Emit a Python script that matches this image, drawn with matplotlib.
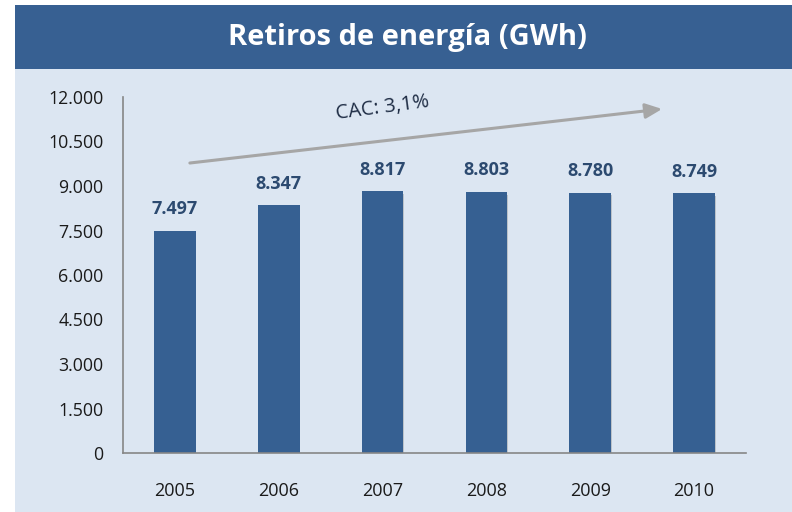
import matplotlib
matplotlib.use("Agg")
import matplotlib.pyplot as plt
from matplotlib.patches import Rectangle
import matplotlib.patheffects as pe

years = ["2005", "2006", "2007", "2008", "2009", "2010"]
values = [7497, 8347, 8817, 8803, 8780, 8749]
value_labels = ["7.497", "8.347", "8.817", "8.803", "8.780", "8.749"]
yticks = [0, 1500, 3000, 4500, 6000, 7500, 9000, 10500, 12000]
ytick_labels = ["0", "1.500", "3.000", "4.500", "6.000", "7.500", "9.000", "10.500", "12.000"]
title = "Retiros de energía (GWh)"
cac_text = "CAC: 3,1%"

FONT = ["Open Sans", "DejaVu Sans"]
plt.rcParams['font.family'] = FONT

BANNER = "#376092"
PANEL = "#dce6f2"
BAR = "#366092"
LABEL = "#2c4a70"
AXIS = "#868686"

fig = plt.figure(figsize=(7.92, 5.12), dpi=100)
fig.patch.set_facecolor("white")

# panel and banner
fig.add_artist(Rectangle((15/792, 0), 1 - 15/792, (512-69)/512, transform=fig.transFigure,
                         facecolor=PANEL, edgecolor="none", zorder=0))
fig.add_artist(Rectangle((15/792, (512-69)/512), 1 - 15/792, 64/512, transform=fig.transFigure,
                         facecolor=BANNER, edgecolor="none", zorder=0))
fig.text(407/792, (512-38)/512, title, color="white", fontsize=21, fontweight="bold",
         ha="center", va="center")

ax = fig.add_axes([123/792, (512-453)/512, (746-123)/792, (453-97)/512])
ax.set_facecolor("none")
x = list(range(len(years)))
bars = ax.bar(x, values, width=0.4, color=BAR, zorder=3)
for b in bars:
    b.set_path_effects([pe.SimplePatchShadow(offset=(0.5, -2), shadow_rgbFace="#7f7f7f", alpha=0.35),
                        pe.Normal()])
for xi, v, lab in zip(x, values, value_labels):
    ax.annotate(lab, (xi, v), xytext=(0, 9), textcoords="offset points", ha="center", va="bottom",
                fontsize=13, fontweight="bold", color=LABEL)

ax.set_xlim(-0.5, len(years) - 0.5)
ax.set_ylim(0, 12000)
ax.set_yticks(yticks)
ax.set_yticklabels(ytick_labels)
ax.set_xticks(x)
ax.set_xticklabels(years)
ax.tick_params(axis="y", length=0, pad=14, labelsize=12.8, labelcolor="#1a1a1a")
ax.tick_params(axis="x", length=0, pad=21, labelsize=13, labelcolor="#1a1a1a")
for s in ["top", "right"]:
    ax.spines[s].set_visible(False)
for s in ["left", "bottom"]:
    ax.spines[s].set_color(AXIS)
    ax.spines[s].set_linewidth(1.2)
    ax.spines[s].set_zorder(4)

# trend arrow
arrow_start = (0.144, 9775)
arrow_end = (4.692, 11596)
ax.annotate("", xy=arrow_end, xytext=arrow_start,
            arrowprops=dict(arrowstyle="-|>,head_length=1.0,head_width=0.45", color="#a6a6a6",
                            lw=2.2, shrinkA=0, shrinkB=0), annotation_clip=False)
ax.text(2.0, 11620, cac_text, rotation=7.5, ha="center", va="center", fontsize=14.5,
        color="#1f2d45", clip_on=False)

fig.savefig("out.png", dpi=100, facecolor="white")
